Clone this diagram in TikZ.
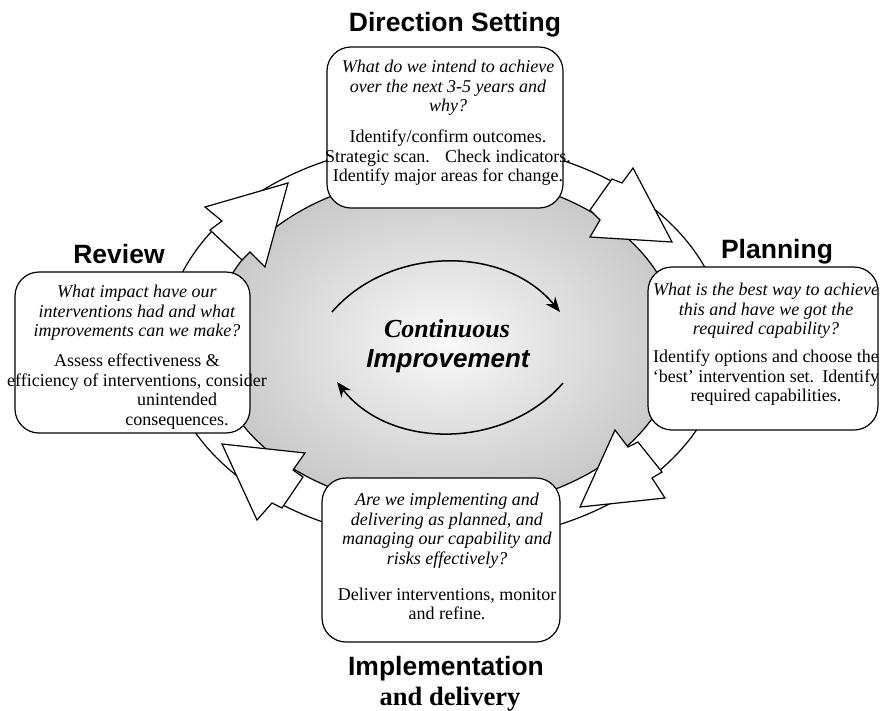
\documentclass[tikz,border=0pt]{standalone}
\usepackage{fontspec}
\setmainfont{Liberation Serif}
\setsansfont{Liberation Sans}
\usetikzlibrary{arrows.meta}
\colorlet{cimid}{black!2}
\colorlet{cinear}{black!10}
\colorlet{ciedge}{black!40}
\pgfdeclareradialshading{cishade}{\pgfpointorigin}{color(0bp)=(cimid); color(10bp)=(cinear); color(50bp)=(ciedge); color(75bp)=(ciedge)}
\newcommand{\qq}[1]{\textit{#1}}
\begin{document}
\begin{tikzpicture}[x=1pt,y=-1pt,
  ringline/.style={line width=1.2pt},
  blockarrow/.style={draw, fill=white, line width=1.2pt, line join=miter},
  stagebox/.style={draw, fill=white, rounded corners=24pt, line width=1.2pt, inner sep=0pt},
  boxtext/.style={align=center, inner sep=0pt, anchor=north, font=\fontsize{18}{19.6}\selectfont},
  ttl/.style={inner sep=0pt, anchor=base, font=\sffamily\bfseries\fontsize{26.5}{30}\selectfont},
  ttlserif/.style={inner sep=0pt, anchor=base, font=\rmfamily\bfseries\fontsize{26.5}{30}\selectfont},
  cyclearrow/.style={line width=1.5pt, -{Stealth[length=15pt,width=12pt]}}]
\useasboundingbox (0,0) rectangle (881,710);
\fill[white] (0,0) rectangle (881,710);

% ring and inner area
\draw[ringline, fill=white] (445,342) ellipse [x radius=280pt, y radius=200pt];
\shade[shading=cishade] (445,342) ellipse [x radius=233pt, y radius=167pt];
\draw[ringline] (445,342) ellipse [x radius=233pt, y radius=167pt];

% continuous improvement
\coordinate (ua) at (332,312);
\coordinate (ub) at (560,312);
\coordinate (la) at (563,383);
\coordinate (lb) at (337,382);
\draw[cyclearrow] (ua) .. controls (390,245) and (505,245) .. (ub);
\draw[cyclearrow] (la) .. controls (505,450) and (390,450) .. (lb);
\node[inner sep=0pt, anchor=base, font=\rmfamily\bfseries\itshape\fontsize{26}{30}\selectfont] (cont) at (447,337) {Continuous};
\node[inner sep=0pt, anchor=base, font=\sffamily\bfseries\itshape\fontsize{26}{30}\selectfont] (impr) at (448,367) {Improvement};

% block arrows on the ring
\draw[blockarrow] (210,230) -- (242,260) -- (250,252) -- (265,267) -- (288,183) -- (205,207) -- (222,221) -- cycle;
\draw[blockarrow] (612,179) -- (622,183) -- (633,168) -- (672,242) -- (590,237) -- (600,220) -- (590,210) -- cycle;
\draw[blockarrow] (638,442) -- (662,472) -- (652,478) -- (665,498) -- (580,507) -- (615,430) -- (628,447) -- cycle;
\draw[blockarrow] (303,477) -- (282,508) -- (272,503) -- (257,520) -- (222,444) -- (305,453) -- (293,470) -- cycle;

% boxes
\node[stagebox, minimum width=236pt, minimum height=161pt] (dirbox) at (445,127.5) {};
\node[stagebox, minimum width=230pt, minimum height=163pt] (planbox) at (763,348.5) {};
\node[stagebox, minimum width=235pt, minimum height=161pt] (revbox) at (132.5,352.5) {};
\node[stagebox, minimum width=238pt, minimum height=164pt] (impbox) at (441,560) {};

% box texts
\node[boxtext] (dirtxt) at (448,60) {\qq{What do we intend to achieve}\\ \qq{over the next 3-5 years and}\\ \qq{why?}\\[11pt]
Identify/confirm outcomes.\\ Strategic scan.\hspace{15pt}Check indicators.\\ Identify major areas for change.};
\node[boxtext] (plantxt) at (766,283) {\qq{What is the best way to achieve}\\ \qq{this and have we got the}\\ \qq{required capability?}\\[8pt]
Identify options and choose the\\ `best' intervention set.\hspace{8pt}Identify\\ required capabilities.};
\node[boxtext] (revtxt) at (137,285) {\qq{What impact have our}\\ \qq{interventions had and what}\\ \qq{improvements can we make?}\\[10pt]
Assess effectiveness \&\\ efficiency of interventions, consider\\ \hspace*{80pt}unintended\\ \hspace*{80pt}consequences.};
\node[boxtext] (imptxt) at (447,493) {\qq{Are we implementing and}\\ \qq{delivering as planned, and}\\ \qq{managing our capability and}\\ \qq{risks effectively?}\\[16pt]
Deliver interventions, monitor\\ and refine.};

% titles
\node[ttl] (dirttl) at (455,31) {Direction Setting};
\node[ttl] (planttl) at (777,258) {Planning};
\node[ttl] (revttl) at (119,263) {Review};
\node[ttl] (impttl) at (446,675) {Implementation};
\node[ttlserif] (impttl2) at (450,705) {and delivery};
\end{tikzpicture}
\end{document}
